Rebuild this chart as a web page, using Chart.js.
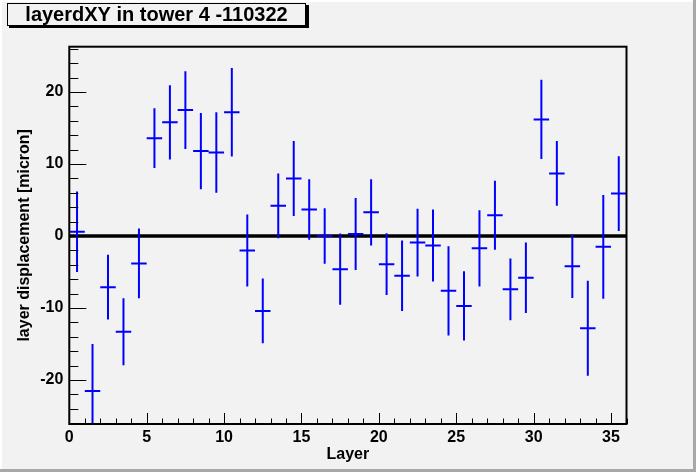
<!DOCTYPE html>
<html>
<head>
<meta charset="utf-8">
<script src="https://cdn.jsdelivr.net/npm/chart.js@4.4.0/dist/chart.umd.min.js"></script>
<style>
  html, body { margin: 0; padding: 0; background: #f2f2f2; }
  canvas { display: block; }
</style>
</head>
<body>
<canvas id="layerChart" width="696" height="472"></canvas>
<script>
// layer centres, measured displacement and its error (micron)
const layers = [0.5, 1.5, 2.5, 3.5, 4.5, 5.5, 6.5, 7.5, 8.5, 9.5, 10.5, 11.5,
  12.5, 13.5, 14.5, 15.5, 16.5, 17.5, 18.5, 19.5, 20.5, 21.5, 22.5, 23.5,
  24.5, 25.5, 26.5, 27.5, 28.5, 29.5, 30.5, 31.5, 32.5, 33.5, 34.5, 35.5];
const displacement = [0.6, -21.5, -7.1, -13.3, -3.8, 13.6, 15.8, 17.5, 11.8, 11.6, 17.2, -2.0,
  -10.4, 4.2, 8.0, 3.7, 0.0, -4.6, 0.3, 3.3, -3.9, -5.5, -0.9, -1.3,
  -7.6, -9.7, -1.7, 2.9, -7.4, -5.8, 16.2, 8.7, -4.2, -12.8, -1.5, 5.9];
const errors = [5.6, 6.5, 4.5, 4.65, 4.85, 4.15, 5.15, 5.4, 5.3, 5.6, 6.15, 5.0,
  4.5, 4.5, 5.2, 4.2, 3.85, 4.95, 5.0, 4.6, 4.3, 4.9, 4.7, 5.0,
  6.2, 4.8, 5.3, 4.8, 4.3, 4.9, 5.5, 4.5, 4.4, 6.6, 7.2, 5.2];
const xTicks = [0, 5, 10, 15, 20, 25, 30, 35];
const yTicks = [-20, -10, 0, 10, 20];
const halfWidth = 0.5;

Chart.defaults.font.family = '"Liberation Sans", Arial, sans-serif';
Chart.defaults.color = '#000';

const rootStyle = {
  id: 'rootStyle',
  beforeDraw(chart) {
    const ctx = chart.ctx;
    const w = chart.width, h = chart.height;
    ctx.save();
    ctx.fillStyle = '#f2f2f2';
    ctx.fillRect(0, 0, w, h);
    // canvas bevel
    ctx.fillStyle = '#ffffff';
    ctx.fillRect(0, 0, w, 2);
    ctx.fillRect(0, 0, 2, h);
    ctx.fillStyle = '#a8a8a8';
    ctx.fillRect(w - 3, 0, 3, h);
    ctx.fillRect(0, h - 3, w, 3);
    // title box
    ctx.fillStyle = '#000';
    ctx.fillRect(9, 25, 300, 3);
    ctx.fillRect(306, 5, 3, 23);
    ctx.fillStyle = '#f2f2f2';
    ctx.fillRect(7, 3, 299, 22);
    ctx.strokeStyle = '#000';
    ctx.lineWidth = 1;
    ctx.strokeRect(7.5, 3.5, 298, 22);
    ctx.fillStyle = '#000';
    ctx.font = 'bold 20px "Liberation Sans", Arial, sans-serif';
    ctx.textAlign = 'center';
    ctx.textBaseline = 'alphabetic';
    ctx.fillText('layerdXY in tower 4 -110322', 156.5, 20.7);
    ctx.restore();
  },
  beforeDatasetsDraw(chart) {
    const ctx = chart.ctx;
    const {x, y} = chart.scales;
    const a = chart.chartArea;
    ctx.save();
    ctx.strokeStyle = '#000';
    ctx.lineWidth = 3.5;
    ctx.beginPath();
    ctx.moveTo(x.getPixelForValue(0), y.getPixelForValue(0));
    ctx.lineTo(x.getPixelForValue(36), y.getPixelForValue(0));
    ctx.stroke();
    ctx.restore();
  },
  afterDatasetsDraw(chart) {
    const ctx = chart.ctx;
    const {x, y} = chart.scales;
    const a = chart.chartArea;
    ctx.save();
    ctx.beginPath();
    ctx.rect(a.left, a.top, a.right - a.left, a.bottom - a.top);
    ctx.clip();
    ctx.strokeStyle = '#0000ff';
    ctx.lineWidth = 2;
    ctx.beginPath();
    layers.forEach((l, i) => {
      const px = x.getPixelForValue(l);
      const py = y.getPixelForValue(displacement[i]);
      ctx.moveTo(x.getPixelForValue(l - halfWidth), py);
      ctx.lineTo(x.getPixelForValue(l + halfWidth), py);
      ctx.moveTo(px, y.getPixelForValue(displacement[i] + errors[i]));
      ctx.lineTo(px, y.getPixelForValue(displacement[i] - errors[i]));
    });
    ctx.stroke();
    ctx.restore();
  },
  afterDraw(chart) {
    const ctx = chart.ctx;
    const {x, y} = chart.scales;
    const a = chart.chartArea;
    ctx.save();
    ctx.strokeStyle = '#000';
    ctx.lineWidth = 1;
    ctx.beginPath();
    // x ticks (inside, pointing up)
    for (let v = 0; v <= 36; v++) {
      const px = Math.round(x.getPixelForValue(v)) + 0.5;
      const len = v % 5 === 0 ? 11 : 5.5;
      ctx.moveTo(px, a.bottom);
      ctx.lineTo(px, a.bottom - len);
    }
    // y ticks (inside, pointing right)
    for (let v = -26; v <= 26; v += 2) {
      const py = Math.round(y.getPixelForValue(v)) + 0.5;
      const len = v % 10 === 0 ? 17 : 9;
      ctx.moveTo(a.left, py);
      ctx.lineTo(a.left + len, py);
    }
    ctx.stroke();
    ctx.lineWidth = 2;
    ctx.strokeRect(a.left, a.top, a.right - a.left, a.bottom - a.top);
    ctx.restore();
  }
};

new Chart(document.getElementById('layerChart'), {
  type: 'scatter',
  data: {
    datasets: [{
      data: layers.map((l, i) => ({x: l, y: displacement[i]})),
      pointRadius: 0,
      showLine: false
    }]
  },
  options: {
    responsive: false,
    animation: false,
    devicePixelRatio: 1,
    layout: { padding: { left: 0, top: 46.7, right: 69.5, bottom: 0 } },
    plugins: { legend: { display: false }, tooltip: { enabled: false } },
    scales: {
      x: {
        type: 'linear',
        min: 0,
        max: 36,
        afterBuildTicks: s => { s.ticks = xTicks.map(v => ({value: v})); },
        afterFit: s => { s.height = 48; },
        grid: { display: false, drawTicks: false, tickLength: 0 },
        border: { display: false },
        ticks: { font: { size: 16, weight: 'bold' }, padding: 4, maxRotation: 0 },
        title: { display: true, text: 'Layer', font: { size: 16, weight: 'bold' }, padding: { top: 0, bottom: 8 } }
      },
      y: {
        type: 'linear',
        min: -26.1,
        max: 26.3,
        afterBuildTicks: s => { s.ticks = yTicks.map(v => ({value: v})); },
        afterFit: s => { s.width = 69.3; },
        grid: { display: false, drawTicks: false, tickLength: 0 },
        border: { display: false },
        ticks: { font: { size: 16, weight: 'bold' }, padding: 6 },
        title: { display: true, text: 'layer displacement [micron]', font: { size: 16, weight: 'bold' }, padding: { top: 15, bottom: 0 } }
      }
    }
  },
  plugins: [rootStyle]
});
</script>
</body>
</html>
